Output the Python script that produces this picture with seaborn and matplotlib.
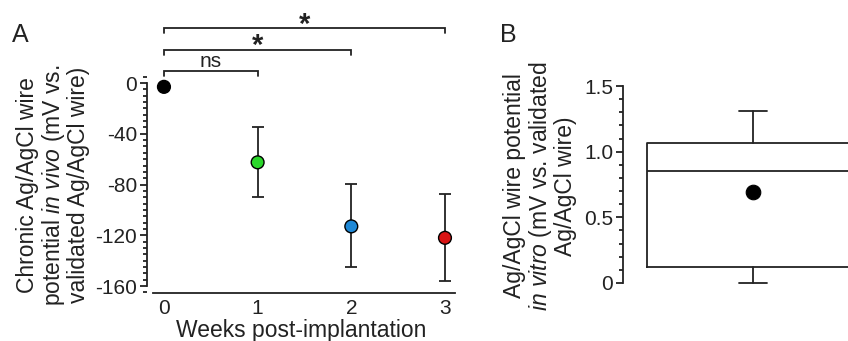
import matplotlib
matplotlib.use("Agg")
import matplotlib.pyplot as plt
import seaborn as sns
import pandas as pd
import numpy as np
from matplotlib.ticker import MultipleLocator, FixedLocator, FixedFormatter

sns.set_theme(style="ticks")
plt.rcParams['font.family'] = ['Liberation Sans', 'DejaVu Sans']
plt.rcParams['axes.unicode_minus'] = False
plt.rcParams['mathtext.fontset'] = 'custom'
plt.rcParams['mathtext.rm'] = 'Liberation Sans'
plt.rcParams['mathtext.it'] = 'Liberation Sans:italic'

# ---- Panel A data ----
weeks = [0, 1, 2, 3]
potential_mean = [-3, -62.5, -113, -122]
err_upper = [-3, -34.5, -79.5, -87.5]
err_lower = [-3, -89.5, -145, -156]
point_colors = ["#000000", "#2bd62b", "#1e88d6", "#d81414"]
week_labels = ["0", "1", "2", "3"]
a_yticks = [0, -40, -80, -120, -160]
a_yticklabels = ["0", "-40", "-80", "-120", "-160"]

# significance brackets: (start week, end week, label)
sig_pairs = [(0, 1, "ns"), (0, 2, "*"), (0, 3, "*")]
sig_heights = [9.7, 26.0, 43.1]

# ---- Panel B data (box summary) ----
b_whisker_low = 0.0
b_q1 = 0.12
b_median = 0.85
b_q3 = 1.065
b_whisker_high = 1.31
b_mean = 0.69
b_yticks = [0, 0.5, 1.0, 1.5]
b_yticklabels = ["0", "0.5", "1.0", "1.5"]

W, H = 848, 341
fig = plt.figure(figsize=(W / 100, H / 100), dpi=100)
fig.patch.set_facecolor("white")

TICK_FS = 15
LABEL_FS = 16.5
LW = 1.3
LINE_COLOR = "#222222"

# ================= Panel A =================
axA = fig.add_axes([147 / W, (H - 293) / H, (455 - 147) / W, (293 - 76.7) / H])
axA.set_facecolor("white")
df = pd.DataFrame({"week": weeks, "mean": potential_mean,
                   "lo": err_lower, "hi": err_upper, "c": point_colors})
yerr = np.array([np.array(df["mean"]) - np.array(df["lo"]),
                 np.array(df["hi"]) - np.array(df["mean"])])
axA.errorbar(df["week"], df["mean"], yerr=yerr, fmt="none", ecolor=LINE_COLOR,
             elinewidth=LW, capsize=4.5, capthick=LW, zorder=2)
sns.scatterplot(data=df, x="week", y="mean", hue="c", palette=dict(zip(point_colors, point_colors)),
                s=85, edgecolor="black", linewidth=1.0, legend=False, ax=axA, zorder=3,
                clip_on=False)
axA.set_xlim(-0.181, 3.107)
axA.set_ylim(-165.5, 5)
axA.spines['top'].set_visible(False)
axA.spines['right'].set_visible(False)
axA.spines['left'].set_bounds(-160, 0)
axA.spines['bottom'].set_bounds(-0.117, 3.107)
for s in ['left', 'bottom']:
    axA.spines[s].set_linewidth(LW)
    axA.spines[s].set_color(LINE_COLOR)
axA.yaxis.set_major_locator(FixedLocator(a_yticks))
axA.yaxis.set_major_formatter(FixedFormatter(a_yticklabels))
axA.yaxis.set_minor_locator(MultipleLocator(5))
axA.xaxis.set_major_locator(FixedLocator(weeks))
axA.xaxis.set_major_formatter(FixedFormatter(week_labels))
axA.tick_params(axis='y', which='major', length=5, width=LW, color=LINE_COLOR,
                labelsize=TICK_FS, pad=2, labelcolor="#222222")
axA.tick_params(axis='y', which='minor', length=3, width=LW, color=LINE_COLOR)
axA.tick_params(axis='x', which='major', length=0, labelsize=TICK_FS, pad=4,
                labelcolor="#222222")
axA.set_xlabel("Weeks post-implantation", fontsize=LABEL_FS, labelpad=1, color="#222222")
axA.set_ylabel("")

# brackets
for (x0, x1, lab), h in zip(sig_pairs, sig_heights):
    axA.plot([x0, x0, x1, x1], [h - 3.9, h, h, h - 3.9], color=LINE_COLOR,
             lw=LW, clip_on=False, solid_joinstyle="miter")
    if lab == "ns":
        axA.text((x0 + x1) / 2, h - 0.3, lab, ha="center", va="bottom",
                 fontsize=TICK_FS, color="#222222")
    else:
        axA.text((x0 + x1) / 2, h - 8.0, lab, ha="center", va="bottom",
                 fontsize=21, fontweight="bold", color="#222222")

fig.text(53 / W, 1 - 185 / H,
         "Chronic Ag/AgCl wire\npotential $\\it{in\\ vivo}$ (mV vs.\nvalidated Ag/AgCl wire)",
         rotation=90, ha="center", va="center", multialignment="center",
         fontsize=LABEL_FS, color="#222222", linespacing=1.05)
fig.text(12 / W, 1 - 35 / H, "A", fontsize=18, ha="left", va="center", color="#222222")

# ================= Panel B =================
axB = fig.add_axes([623 / W, (H - 283) / H, 260 / W, (283 - 86) / H])
axB.set_facecolor("none")
stats = [dict(med=b_median, q1=b_q1, q3=b_q3, whislo=b_whisker_low,
              whishi=b_whisker_high, mean=b_mean, label="")]
props = dict(color=LINE_COLOR, linewidth=LW)
axB.bxp(stats, positions=[0], widths=1.63, showmeans=False, showfliers=False,
        boxprops=props, medianprops=props, whiskerprops=props, capprops=props,
        capwidths=0.22, patch_artist=False)
for line in axB.lines:
    line.set_clip_on(False)
sns.scatterplot(x=[0], y=[b_mean], color="black", s=110, edgecolor="black",
                linewidth=0.8, ax=axB, zorder=4)
axB.set_xlim(-1, 1)
axB.set_ylim(0, 1.5)
axB.spines['top'].set_visible(False)
axB.spines['right'].set_visible(False)
axB.spines['bottom'].set_visible(False)
axB.spines['left'].set_linewidth(LW)
axB.spines['left'].set_color(LINE_COLOR)
axB.yaxis.set_major_locator(FixedLocator(b_yticks))
axB.yaxis.set_major_formatter(FixedFormatter(b_yticklabels))
axB.yaxis.set_minor_locator(MultipleLocator(0.1))
axB.tick_params(axis='y', which='major', length=5, width=LW, color=LINE_COLOR,
                labelsize=TICK_FS, pad=2, labelcolor="#222222")
axB.tick_params(axis='y', which='minor', length=3, width=LW, color=LINE_COLOR)
axB.set_xticks([])
axB.set_xlabel("")
axB.set_ylabel("")

fig.text(540 / W, 1 - 186 / H,
         "Ag/AgCl wire potential\n$\\it{in\\ vitro}$ (mV vs. validated\nAg/AgCl wire)",
         rotation=90, ha="center", va="center", multialignment="center",
         fontsize=LABEL_FS, color="#222222", linespacing=1.05)
fig.text(500 / W, 1 - 35 / H, "B", fontsize=18, ha="left", va="center", color="#222222")

fig.savefig("out.png", dpi=100, facecolor="white")
